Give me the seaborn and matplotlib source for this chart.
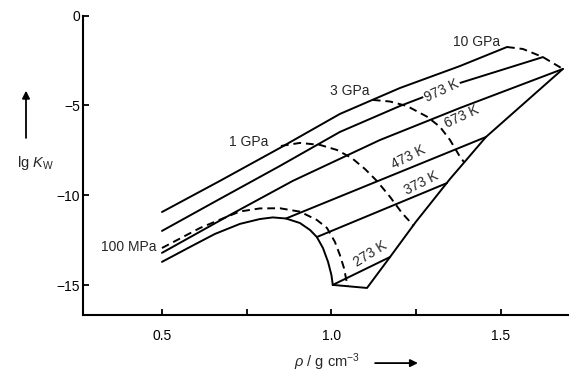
import matplotlib
matplotlib.use("Agg")
import matplotlib.pyplot as plt
import seaborn as sns
import numpy as np
import pandas as pd

# ---- data (rho in g/cm3, lg Kw) ----
# isotherms (solid)
iso_top_rho = [0.500, 0.671, 0.848, 1.025, 1.202, 1.379, 1.518]
iso_top_lgk = [-10.92, -9.19, -7.36, -5.47, -4.03, -2.81, -1.75]

iso_973_rho = [0.500, 0.671, 0.848, 1.025, 1.202, 1.379, 1.624]
iso_973_lgk = [-11.97, -10.19, -8.36, -6.47, -5.03, -3.75, -2.31]

iso_673_rho = [0.500, 0.701, 0.886, 1.143, 1.379, 1.683]
iso_673_lgk = [-13.19, -11.08, -9.19, -6.92, -5.14, -2.97]

iso_473_rho = [0.866, 1.456]
iso_473_lgk = [-11.28, -6.75]

iso_373_rho = [0.957, 1.341]
iso_373_lgk = [-12.31, -9.31]

iso_273_rho = [1.004, 1.173]
iso_273_lgk = [-14.97, -13.42]

# boundaries (solid)
sat_rho = [0.500, 0.583, 0.656, 0.730, 0.789, 0.827, 0.866, 0.907, 0.937,
           0.957, 0.975, 0.990, 1.000, 1.004]
sat_lgk = [-13.69, -12.86, -12.14, -11.58, -11.31, -11.22, -11.28, -11.53, -11.92,
           -12.31, -12.92, -13.69, -14.42, -14.97]

melt_rho = [1.004, 1.105, 1.173, 1.249, 1.350, 1.456, 1.683]
melt_lgk = [-14.97, -15.14, -13.42, -11.47, -9.08, -6.75, -2.97]

# isobars (dashed)
p100_rho = [0.500, 0.612, 0.692, 0.730, 0.789, 0.848, 0.907, 0.957, 0.987,
            1.010, 1.025, 1.037, 1.045, 1.049]
p100_lgk = [-12.92, -11.81, -11.18, -10.89, -10.72, -10.71, -10.90, -11.36, -11.81,
            -12.57, -13.31, -14.03, -14.79, -15.03]

p1g_rho = [0.851, 0.907, 0.966, 1.016, 1.060, 1.099, 1.134, 1.173, 1.208, 1.243]
p1g_lgk = [-7.25, -7.08, -7.19, -7.47, -7.92, -8.53, -9.19, -10.08, -10.97, -11.69]

p3g_rho = [1.122, 1.173, 1.223, 1.282, 1.320, 1.350, 1.379, 1.391]
p3g_lgk = [-4.69, -4.78, -5.03, -5.62, -6.18, -6.92, -7.84, -8.14]

p10g_rho = [1.518, 1.565, 1.624, 1.683]
p10g_lgk = [-1.75, -1.86, -2.31, -2.97]

x_ticks = [0.5, 1.0, 1.5]
x_ticklabels = ["0.5", "1.0", "1.5"]
x_minor = [0.75, 1.25]
y_ticks = [0, -5, -10, -15]
y_ticklabels = ["0", "\u22125", "\u221210", "\u221215"]

iso_labels = ["973 K", "673 K", "473 K", "373 K", "273 K"]
iso_label_pos = [(1.326, -4.19, 25), (1.385, -5.64, 25), (1.226, -7.86, 27),
                 (1.264, -9.31, 27), (1.114, -13.25, 32)]
bar_labels = ["100 MPa", "1 GPa", "3 GPa", "10 GPa"]

# ---- style ----
sns.set_theme(style="ticks")
plt.rcParams["font.family"] = ["Liberation Sans", "DejaVu Sans"]
plt.rcParams["mathtext.fontset"] = "custom"
plt.rcParams["mathtext.rm"] = "Liberation Sans"
plt.rcParams["mathtext.it"] = "Liberation Sans:italic"
plt.rcParams["mathtext.bf"] = "Liberation Sans:bold"

fig = plt.figure(figsize=(5.87, 3.81), dpi=100)
ax = fig.add_axes([0.1414, 0.1724, 0.8262, 0.7869])

LW = 1.4
solid = [(iso_top_rho, iso_top_lgk), (iso_973_rho, iso_973_lgk), (iso_673_rho, iso_673_lgk),
         (iso_473_rho, iso_473_lgk), (iso_373_rho, iso_373_lgk), (iso_273_rho, iso_273_lgk),
         (sat_rho, sat_lgk), (melt_rho, melt_lgk)]
dashed = [(p100_rho, p100_lgk), (p1g_rho, p1g_lgk), (p3g_rho, p3g_lgk), (p10g_rho, p10g_lgk)]

for xs, ys in solid:
    sns.lineplot(x=xs, y=ys, sort=False, estimator=None, color="black", lw=LW, ax=ax,
                 solid_joinstyle="round")
for xs, ys in dashed:
    sns.lineplot(x=xs, y=ys, sort=False, estimator=None, color="black", lw=LW,
                 linestyle=(0, (4, 2.5)), ax=ax)

ax.set_xlim(0.267, 1.698)
ax.set_ylim(-16.66, 0)
sns.despine(ax=ax)
for s in ["left", "bottom"]:
    ax.spines[s].set_color("black")
    ax.spines[s].set_linewidth(1.5)

ax.set_xticks(x_ticks)
ax.set_xticklabels(x_ticklabels)
ax.set_xticks(x_minor, minor=True)
ax.set_yticks(y_ticks)
ax.set_yticklabels(y_ticklabels)
ax.tick_params(axis="both", which="both", direction="in", color="black", width=1.3,
               labelsize=10, labelcolor="black")
ax.tick_params(axis="x", which="major", length=4, pad=10)
ax.tick_params(axis="x", which="minor", length=4)
ax.tick_params(axis="y", which="major", length=4, pad=2)
ax.set_xlabel("")
ax.set_ylabel("")

# curve labels
fs = 10
ax.text(0.485, -12.86, bar_labels[0], ha="right", va="center", fontsize=fs)
ax.text(0.813, -7.03, bar_labels[1], ha="right", va="center", fontsize=fs)
ax.text(1.055, -4.19, bar_labels[2], ha="center", va="center", fontsize=fs)
ax.text(1.429, -1.47, bar_labels[3], ha="center", va="center", fontsize=fs)
for lab, (lx, ly, rot) in zip(iso_labels, iso_label_pos):
    kw = {}
    if lab == "973 K":
        kw["bbox"] = dict(facecolor="white", edgecolor="none", pad=1.0)
    ax.text(lx, ly, lab, ha="center", va="center", fontsize=fs, rotation=rot,
            rotation_mode="anchor", **kw)

# axis labels with arrows
fig.text(0.0596, 0.573, r"lg $K_\mathrm{W}$", ha="center", va="center", fontsize=10.5)
fig.text(0.557, 0.049, r"$\rho$ / g cm$^{-3}$", ha="center", va="center", fontsize=10.5)
ax.annotate("", xy=(0.0443, 0.762), xytext=(0.0443, 0.638), xycoords="figure fraction",
            textcoords="figure fraction",
            arrowprops=dict(arrowstyle="-|>", lw=1.3, color="black", mutation_scale=11,
                            shrinkA=0, shrinkB=0))
ax.annotate("", xy=(0.712, 0.047), xytext=(0.639, 0.047), xycoords="figure fraction",
            textcoords="figure fraction",
            arrowprops=dict(arrowstyle="-|>", lw=1.3, color="black", mutation_scale=11,
                            shrinkA=0, shrinkB=0))

fig.savefig("out.png", dpi=100)
